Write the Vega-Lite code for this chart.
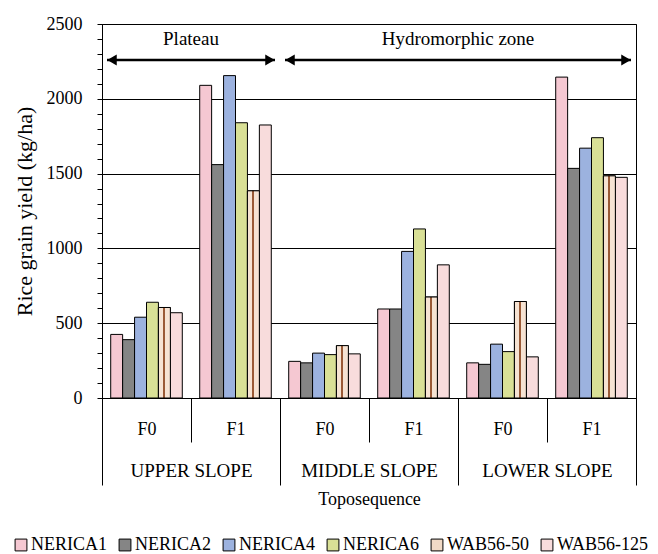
{
  "$schema": "https://vega.github.io/schema/vega-lite/v6.json",
  "width": 534,
  "height": 374,
  "autosize": "none",
  "padding": {"left": 102, "top": 24, "right": 22, "bottom": 156},
  "background": "white",
  "datasets": {
    "yields": [
      {"slope": "UPPER SLOPE", "fert": "F0", "cell": "UPPER SLOPE F0", "variety": "NERICA1", "yield": 425},
      {"slope": "UPPER SLOPE", "fert": "F0", "cell": "UPPER SLOPE F0", "variety": "NERICA2", "yield": 390},
      {"slope": "UPPER SLOPE", "fert": "F0", "cell": "UPPER SLOPE F0", "variety": "NERICA4", "yield": 540},
      {"slope": "UPPER SLOPE", "fert": "F0", "cell": "UPPER SLOPE F0", "variety": "NERICA6", "yield": 640},
      {"slope": "UPPER SLOPE", "fert": "F0", "cell": "UPPER SLOPE F0", "variety": "WAB56-50", "yield": 605},
      {"slope": "UPPER SLOPE", "fert": "F0", "cell": "UPPER SLOPE F0", "variety": "WAB56-125", "yield": 570},
      {"slope": "UPPER SLOPE", "fert": "F1", "cell": "UPPER SLOPE F1", "variety": "NERICA1", "yield": 2090},
      {"slope": "UPPER SLOPE", "fert": "F1", "cell": "UPPER SLOPE F1", "variety": "NERICA2", "yield": 1560},
      {"slope": "UPPER SLOPE", "fert": "F1", "cell": "UPPER SLOPE F1", "variety": "NERICA4", "yield": 2155},
      {"slope": "UPPER SLOPE", "fert": "F1", "cell": "UPPER SLOPE F1", "variety": "NERICA6", "yield": 1840},
      {"slope": "UPPER SLOPE", "fert": "F1", "cell": "UPPER SLOPE F1", "variety": "WAB56-50", "yield": 1385},
      {"slope": "UPPER SLOPE", "fert": "F1", "cell": "UPPER SLOPE F1", "variety": "WAB56-125", "yield": 1825},
      {"slope": "MIDDLE SLOPE", "fert": "F0", "cell": "MIDDLE SLOPE F0", "variety": "NERICA1", "yield": 245},
      {"slope": "MIDDLE SLOPE", "fert": "F0", "cell": "MIDDLE SLOPE F0", "variety": "NERICA2", "yield": 235},
      {"slope": "MIDDLE SLOPE", "fert": "F0", "cell": "MIDDLE SLOPE F0", "variety": "NERICA4", "yield": 300},
      {"slope": "MIDDLE SLOPE", "fert": "F0", "cell": "MIDDLE SLOPE F0", "variety": "NERICA6", "yield": 290},
      {"slope": "MIDDLE SLOPE", "fert": "F0", "cell": "MIDDLE SLOPE F0", "variety": "WAB56-50", "yield": 350},
      {"slope": "MIDDLE SLOPE", "fert": "F0", "cell": "MIDDLE SLOPE F0", "variety": "WAB56-125", "yield": 295},
      {"slope": "MIDDLE SLOPE", "fert": "F1", "cell": "MIDDLE SLOPE F1", "variety": "NERICA1", "yield": 595},
      {"slope": "MIDDLE SLOPE", "fert": "F1", "cell": "MIDDLE SLOPE F1", "variety": "NERICA2", "yield": 595},
      {"slope": "MIDDLE SLOPE", "fert": "F1", "cell": "MIDDLE SLOPE F1", "variety": "NERICA4", "yield": 980},
      {"slope": "MIDDLE SLOPE", "fert": "F1", "cell": "MIDDLE SLOPE F1", "variety": "NERICA6", "yield": 1130},
      {"slope": "MIDDLE SLOPE", "fert": "F1", "cell": "MIDDLE SLOPE F1", "variety": "WAB56-50", "yield": 675},
      {"slope": "MIDDLE SLOPE", "fert": "F1", "cell": "MIDDLE SLOPE F1", "variety": "WAB56-125", "yield": 890},
      {"slope": "LOWER SLOPE", "fert": "F0", "cell": "LOWER SLOPE F0", "variety": "NERICA1", "yield": 235},
      {"slope": "LOWER SLOPE", "fert": "F0", "cell": "LOWER SLOPE F0", "variety": "NERICA2", "yield": 225},
      {"slope": "LOWER SLOPE", "fert": "F0", "cell": "LOWER SLOPE F0", "variety": "NERICA4", "yield": 360},
      {"slope": "LOWER SLOPE", "fert": "F0", "cell": "LOWER SLOPE F0", "variety": "NERICA6", "yield": 310},
      {"slope": "LOWER SLOPE", "fert": "F0", "cell": "LOWER SLOPE F0", "variety": "WAB56-50", "yield": 645},
      {"slope": "LOWER SLOPE", "fert": "F0", "cell": "LOWER SLOPE F0", "variety": "WAB56-125", "yield": 275},
      {"slope": "LOWER SLOPE", "fert": "F1", "cell": "LOWER SLOPE F1", "variety": "NERICA1", "yield": 2145},
      {"slope": "LOWER SLOPE", "fert": "F1", "cell": "LOWER SLOPE F1", "variety": "NERICA2", "yield": 1535},
      {"slope": "LOWER SLOPE", "fert": "F1", "cell": "LOWER SLOPE F1", "variety": "NERICA4", "yield": 1670},
      {"slope": "LOWER SLOPE", "fert": "F1", "cell": "LOWER SLOPE F1", "variety": "NERICA6", "yield": 1740},
      {"slope": "LOWER SLOPE", "fert": "F1", "cell": "LOWER SLOPE F1", "variety": "WAB56-50", "yield": 1485},
      {"slope": "LOWER SLOPE", "fert": "F1", "cell": "LOWER SLOPE F1", "variety": "WAB56-125", "yield": 1475}
    ],
    "zones": [
      {"zone": "Plateau", "from": 0, "to": 1, "mid": 0.5},
      {"zone": "Hydromorphic zone", "from": 1, "to": 3, "mid": 2}
    ],
    "slopes": [
      {"slope": "UPPER SLOPE"},
      {"slope": "MIDDLE SLOPE"},
      {"slope": "LOWER SLOPE"}
    ]
  },
  "layer": [
    {
      "data": {"name": "yields"},
      "layer": [
        {
          "mark": {"type": "bar", "stroke": "black", "strokeWidth": 1},
          "encoding": {
            "x": {
              "field": "cell", "type": "nominal",
              "scale": {"domain": ["UPPER SLOPE F0", "UPPER SLOPE F1", "MIDDLE SLOPE F0", "MIDDLE SLOPE F1", "LOWER SLOPE F0", "LOWER SLOPE F1"], "paddingInner": 0, "paddingOuter": 0},
              "axis": {"title": null, "labelExpr": "slice(datum.label, -2)", "labelAngle": 0, "tickBand": "extent", "tickSize": 44, "labelPadding": -22, "labelFontSize": 18}
            },
            "xOffset": {
              "field": "variety", "type": "nominal",
              "scale": {"domain": ["NERICA1", "NERICA2", "NERICA4", "NERICA6", "WAB56-50", "WAB56-125"], "paddingInner": 0, "paddingOuter": 0.73}
            },
            "y": {
              "field": "yield", "type": "quantitative",
              "scale": {"domain": [0, 2500], "nice": false},
              "axis": {
                "orient": "left",
                "title": "Rice grain yield (kg/ha)",
                "values": [0, 500, 1000, 1500, 2000, 2500],
                "format": "d",
                "grid": true,
                "labelOverlap": false,
                "tickSize": 5,
                "labelPadding": 15,
                "titlePadding": 10,
                "labelFontSize": 18,
                "titleFontSize": 22
              }
            },
            "color": {
              "field": "variety", "type": "nominal",
              "scale": {"domain": ["NERICA1", "NERICA2", "NERICA4", "NERICA6", "WAB56-50", "WAB56-125"], "range": ["#f5c8d2", "#858585", "#9cb2df", "#d9e096", "#f1dac6", "#f8dcdc"]},
              "legend": {
                "orient": "none", "legendX": -90, "legendY": 512, "direction": "horizontal", "columns": 6,
                "title": null, "symbolType": "square", "symbolSize": 140, "symbolStrokeColor": "black", "symbolStrokeWidth": 1,
                "labelFont": "Liberation Serif", "labelFontSize": 18, "labelColor": "black", "labelOffset": 1, "columnPadding": 9
              }
            }
          }
        },
        {
          "transform": [{"filter": "datum.variety === 'WAB56-50'"}],
          "mark": {
            "type": "bar", "stroke": "black", "strokeWidth": 1,
            "fill": {"gradient": "linear", "x1": 0, "y1": 0, "x2": 1, "y2": 0, "stops": [
              {"offset": 0, "color": "#f6e3d3"}, {"offset": 0.4, "color": "#f6e3d3"},
              {"offset": 0.4, "color": "#9a5a36"}, {"offset": 0.58, "color": "#9a5a36"},
              {"offset": 0.58, "color": "#f6e3d3"}, {"offset": 1, "color": "#f6e3d3"}
            ]}
          },
          "encoding": {
            "x": {"field": "cell", "type": "nominal"},
            "xOffset": {"field": "variety", "type": "nominal"},
            "y": {"field": "yield", "type": "quantitative"}
          }
        }
      ]
    },
    {
      "data": {"name": "slopes"},
      "mark": {"type": "rule", "opacity": 0},
      "encoding": {
        "x": {
          "field": "slope", "type": "nominal",
          "scale": {"type": "band", "domain": ["UPPER SLOPE", "MIDDLE SLOPE", "LOWER SLOPE"], "paddingInner": 0, "paddingOuter": 0},
          "axis": {"orient": "bottom", "title": "Toposequence", "domain": false, "tickBand": "extent", "tickSize": 87, "labelPadding": -24, "labelAngle": 0, "labelFontSize": 19, "titleFontSize": 18, "titlePadding": 5}
        }
      }
    },
    {
      "data": {"name": "slopes"},
      "mark": {"type": "rule", "opacity": 0},
      "encoding": {
        "y": {
          "datum": 0, "type": "quantitative",
          "axis": {"orient": "left", "title": null, "values": [100, 200, 300, 400, 600, 700, 800, 900, 1100, 1200, 1300, 1400, 1600, 1700, 1800, 1900, 2100, 2200, 2300, 2400], "labels": false, "grid": false, "domain": false, "tickSize": 5}
        }
      }
    },
    {
      "data": {"name": "zones"},
      "layer": [
        {
          "mark": {"type": "rule", "color": "black", "strokeWidth": 2.5, "xOffset": 5, "x2Offset": -5},
          "encoding": {
            "x": {"field": "from", "type": "quantitative", "scale": {"domain": [0, 3], "nice": false, "zero": false}, "axis": null},
            "x2": {"field": "to"},
            "y": {"datum": 2260, "type": "quantitative", "axis": null}
          }
        },
        {
          "mark": {"type": "point", "shape": "triangle-left", "filled": true, "color": "black", "opacity": 1, "size": 120, "xOffset": 10},
          "encoding": {
            "x": {"field": "from", "type": "quantitative"},
            "y": {"datum": 2260, "type": "quantitative"}
          }
        },
        {
          "mark": {"type": "point", "shape": "triangle-right", "filled": true, "color": "black", "opacity": 1, "size": 120, "xOffset": -10},
          "encoding": {
            "x": {"field": "to", "type": "quantitative"},
            "y": {"datum": 2260, "type": "quantitative"}
          }
        },
        {
          "mark": {"type": "text", "fontSize": 19, "color": "black", "font": "Liberation Serif"},
          "encoding": {
            "x": {"field": "mid", "type": "quantitative"},
            "y": {"datum": 2400, "type": "quantitative"},
            "text": {"field": "zone"}
          }
        }
      ]
    }
  ],
  "resolve": {"scale": {"x": "independent"}, "axis": {"x": "independent", "y": "independent"}},
  "config": {
    "view": {"stroke": "black", "strokeWidth": 1},
    "font": "Liberation Serif",
    "axis": {
      "labelFont": "Liberation Serif", "titleFont": "Liberation Serif",
      "labelColor": "black", "titleColor": "black", "titleFontWeight": "normal",
      "domainColor": "black", "tickColor": "black", "gridColor": "black", "gridWidth": 1
    }
  }
}
